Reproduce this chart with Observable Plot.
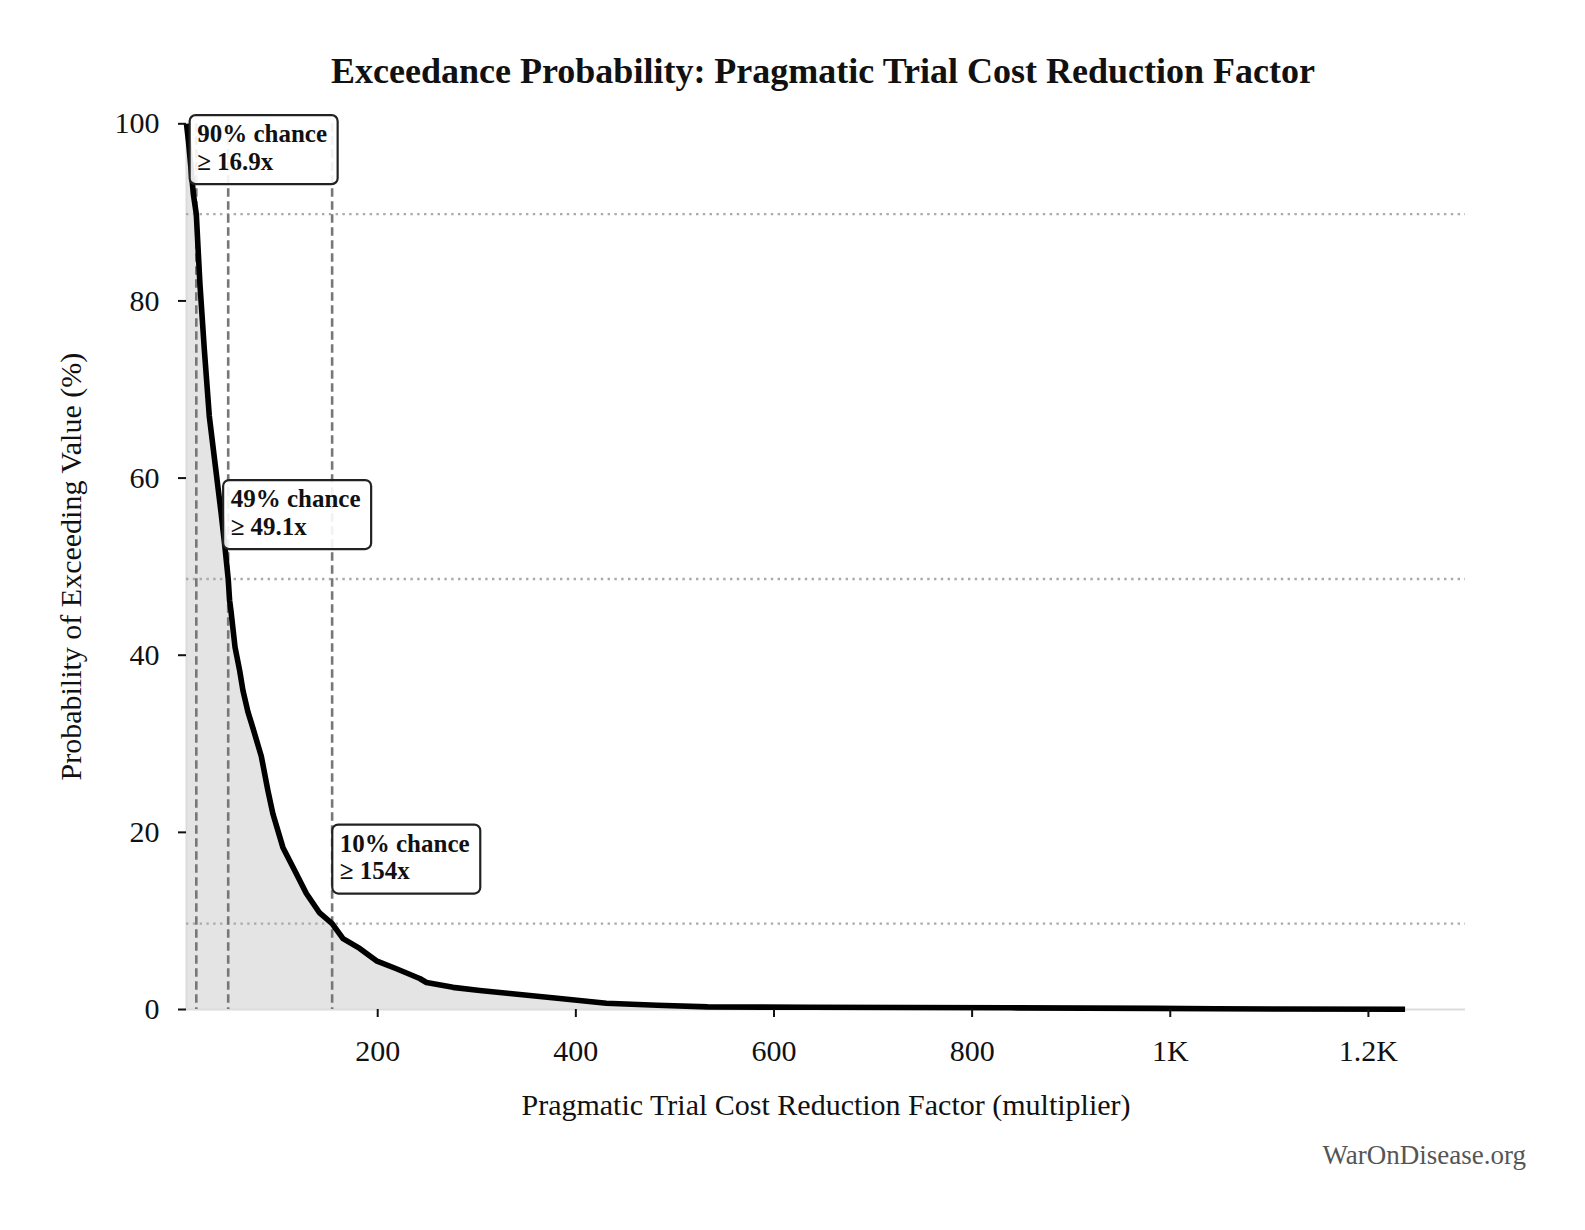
<!DOCTYPE html>
<html>
<head>
<meta charset="utf-8">
<script src="https://cdn.jsdelivr.net/npm/d3@7"></script>
<script src="https://cdn.jsdelivr.net/npm/@observablehq/plot@0.6"></script>
<style>
  html, body { margin: 0; padding: 0; background: #fff; overflow: hidden; }
  body { width: 1585px; height: 1230px; position: relative; font-family: "Liberation Serif", "DejaVu Serif", serif; }
  #title { position: absolute; top: 53px; left: 823px; transform: translateX(-50%); white-space: nowrap;
           font-size: 36px; line-height: 36px; font-weight: bold; color: #111; }
  #chart { position: absolute; top: 100px; left: 0; }
  #footer { position: absolute; top: 1142px; right: 59px; font-size: 27px; line-height: 27px; color: #555; white-space: nowrap; }
</style>
</head>
<body>
<div id="title">Exceedance Probability: Pragmatic Trial Cost Reduction Factor</div>
<div id="chart"></div>
<div id="footer">WarOnDisease.org</div>
<script>
// ---- data ----
const curveX = [7, 9, 11.5, 14, 16.9, 20.5, 25, 30, 36, 42, 46, 49.1, 50.5, 52, 56, 60.6, 64, 69, 74, 82.5, 89.2, 94.2,
  104.3, 116.2, 128, 141.4, 154, 165, 181.8, 198.7, 218.9, 242.4, 249.2, 276, 303, 333.3, 383.8, 430.8, 481.8,
  533, 635, 839, 983.6, 1045, 1237];
const curveP = [100, 98, 95, 92, 89.8, 82, 74.5, 67, 61.5, 56, 52, 48.6, 46.2, 44.9, 40.9, 38.3, 36, 33.6, 31.8, 28.6, 24.7, 22.1,
  18.3, 15.7, 13.1, 10.9, 9.7, 8.0, 6.9, 5.5, 4.6, 3.5, 3.05, 2.5, 2.14, 1.8, 1.24, 0.71, 0.48,
  0.30, 0.25, 0.19, 0.13, 0.08, 0.02];

const annPct = [90, 49, 10];
const annValue = [16.9, 49.1, 154];
const annValueLabel = ["16.9", "49.1", "154"];
const annProb = [89.8, 48.6, 9.7];

const xTicks = [200, 400, 600, 800, 1000, 1200];
const xTickLabels = ["200", "400", "600", "800", "1K", "1.2K"];
const yTicks = [0, 20, 40, 60, 80, 100];
const xDomain = [7, 1298];
const yDomain = [0, 100];

const xLabel = "Pragmatic Trial Cost Reduction Factor (multiplier)";
const yLabel = "Probability of Exceeding Value (%)";

// ---- tables ----
const curve = curveX.map((x, i) => ({x, p: curveP[i]}));
const ann = annPct.map((pct, i) => ({
  pct, value: annValue[i], label: annValueLabel[i], p: annProb[i], tx: annValue[i] * 1.05
}));

const chart = Plot.plot({
  width: 1585,
  height: 1030,
  marginLeft: 186,
  marginRight: 120,
  marginTop: 23.3,
  marginBottom: 121,
  style: {fontFamily: "'Liberation Serif', 'DejaVu Serif', serif", fontSize: "30px", background: "white", color: "#111", overflow: "visible"},
  x: {domain: xDomain},
  y: {domain: yDomain},
  marks: [
    Plot.areaY(curve, {x: "x", y: "p", fill: "#e4e4e4"}),
    Plot.ruleY([yDomain[0]], {stroke: "#dcdcdc", strokeWidth: 2}),
    Plot.ruleX([xDomain[0]], {stroke: "#dcdcdc", strokeWidth: 2}),
    Plot.ruleY(ann, {y: "p", stroke: "#aaaaaa", strokeWidth: 2.4, strokeDasharray: "2.4,4.4"}),
    Plot.ruleX(ann, {x: "value", stroke: "#777777", strokeWidth: 2.6, strokeDasharray: "8.5,4.5"}),
    Plot.line(curve, {x: "x", y: "p", stroke: "#000", strokeWidth: 5.6, strokeLinejoin: "round", strokeLinecap: "butt"}),
    Plot.rect(ann, {x1: "tx", x2: "tx", y1: "p", y2: "p",
      insetLeft: -7, insetRight: -141, insetTop: -98.5, insetBottom: 29.5,
      fill: "white", fillOpacity: 0.9, stroke: "#222", strokeWidth: 2.2, rx: 6}),
    Plot.text(ann, {x: "tx", y: "p", text: d => `${d.pct}% chance\n≥ ${d.label}x`,
      textAnchor: "start", lineAnchor: "middle", lineHeight: 1.1, dy: -67,
      fontWeight: "bold", fontSize: 25, fill: "#111"}),
    Plot.axisX(xTicks, {tickFormat: d => xTickLabels[xTicks.indexOf(d)], tickSize: 8, tickPadding: 22, strokeWidth: 2, label: null, fontSize: 30}),
    Plot.axisY(yTicks, {tickSize: 8, tickPadding: 19, strokeWidth: 2, label: null, fontSize: 30}),
    Plot.text([xLabel], {frameAnchor: "bottom", text: d => d, dy: 96, textAnchor: "middle", lineAnchor: "middle", fontSize: 30, fill: "#111"}),
    Plot.text([yLabel], {frameAnchor: "left", text: d => d, dx: -115, rotate: -90, textAnchor: "middle", lineAnchor: "middle", fontSize: 30, fill: "#111"})
  ]
});
document.getElementById("chart").appendChild(chart);
</script>
</body>
</html>
